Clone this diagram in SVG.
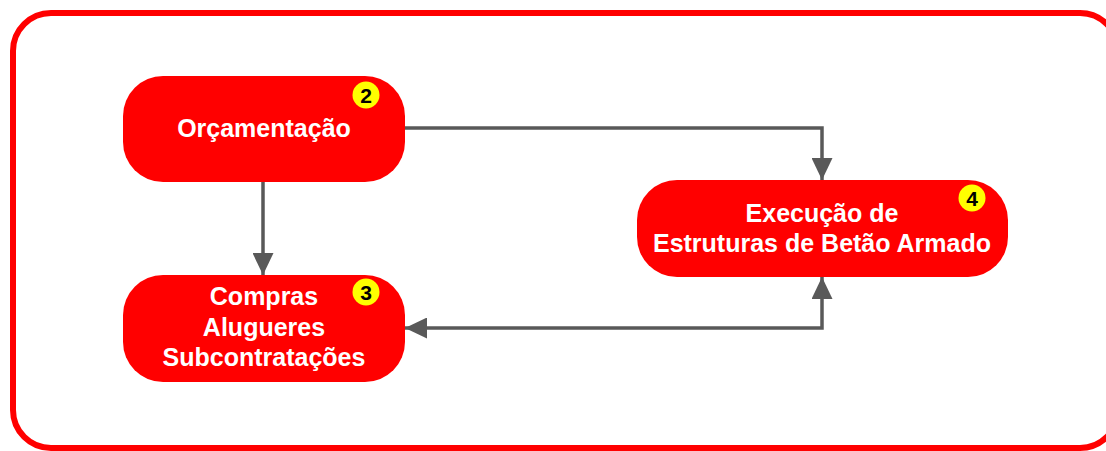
<svg xmlns="http://www.w3.org/2000/svg" width="1106" height="451" viewBox="0 0 1106 451">
<style>
.node{fill:#FF0000;}
.lbl{font-family:"Liberation Sans",Arial,sans-serif;font-weight:bold;font-size:25px;fill:#FFFFFF;text-anchor:middle;}
.badge{fill:#FFFF00;}
.num{font-family:"Liberation Sans",Arial,sans-serif;font-weight:bold;font-size:21px;fill:#000000;text-anchor:middle;}
.conn{fill:none;stroke:#595959;stroke-width:3.5;}
</style>
<defs>
<marker id="ah" markerWidth="22" markerHeight="21" viewBox="0 0 22 21" refX="22" refY="10.5" orient="auto-start-reverse" markerUnits="userSpaceOnUse">
<path d="M0,0 L22,10.5 L0,21 Z" fill="#595959"/>
</marker>
</defs>
<rect x="13" y="13" width="1105" height="435" rx="38" ry="38" fill="#FFFFFF" stroke="#FF0000" stroke-width="6"/>
<g id="connectors">
<path class="conn" d="M405,128 L822,128 L822,180" marker-end="url(#ah)"/>
<path class="conn" d="M263,182 L263,275" marker-end="url(#ah)"/>
<path class="conn" d="M405,328 L822,328 L822,277" marker-start="url(#ah)" marker-end="url(#ah)"/>
</g>
<g id="node2">
<rect class="node" x="123" y="76" width="282" height="106" rx="40" ry="40"/>
<text class="lbl" x="264" y="137">Orçamentação</text>
<circle class="badge" cx="366" cy="95" r="13.5"/>
<text class="num" x="366" y="102.5">2</text>
</g>
<g id="node3">
<rect class="node" x="123" y="275" width="282" height="107" rx="40" ry="40"/>
<text class="lbl" x="264" y="305">Compras</text>
<text class="lbl" x="264" y="336">Alugueres</text>
<text class="lbl" x="264" y="366">Subcontratações</text>
<circle class="badge" cx="366" cy="292" r="13.5"/>
<text class="num" x="366" y="299.5">3</text>
</g>
<g id="node4">
<rect class="node" x="637" y="180" width="371" height="97" rx="40" ry="40"/>
<text class="lbl" x="822" y="222">Execução de</text>
<text class="lbl" x="822" y="252">Estruturas de Betão Armado</text>
<circle class="badge" cx="972" cy="198" r="13.5"/>
<text class="num" x="972" y="205.5">4</text>
</g>
</svg>
